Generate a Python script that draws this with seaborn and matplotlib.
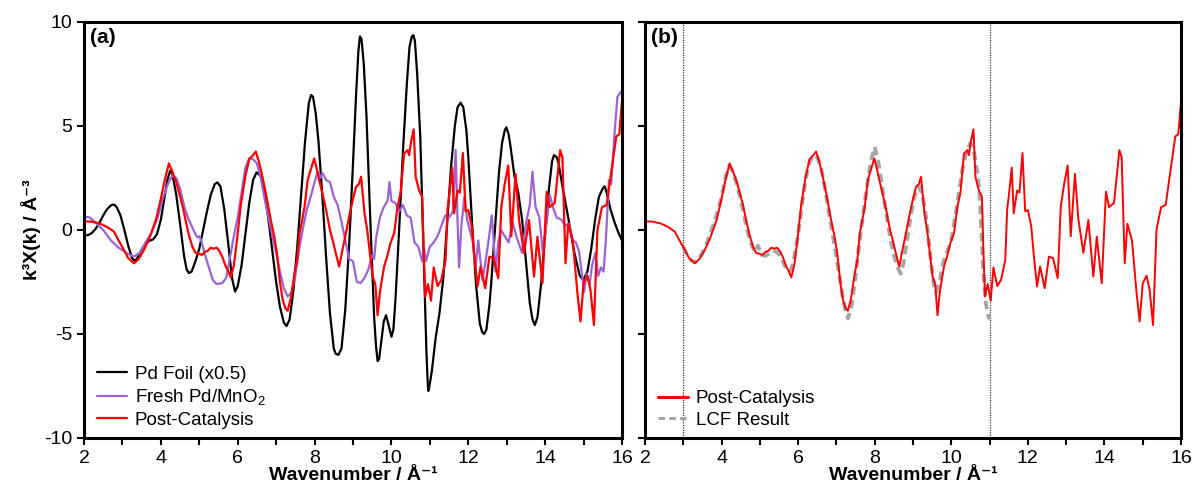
import numpy as np
import pandas as pd
import matplotlib
matplotlib.use("Agg")
import matplotlib.pyplot as plt
from matplotlib.ticker import MultipleLocator
import seaborn as sns

# ---------------- data ----------------
foil_k = [2.0, 2.1, 2.2, 2.3, 2.4, 2.5, 2.6, 2.7, 2.75, 2.8, 2.85, 2.95, 3.05, 3.15, 3.25, 3.3,
          3.35, 3.4, 3.5, 3.6, 3.7, 3.8, 3.9, 4.0, 4.1, 4.17, 4.24, 4.3, 4.4, 4.5, 4.6, 4.67, 4.73,
          4.8, 4.9, 5.0, 5.1, 5.2, 5.3, 5.4, 5.47, 5.55, 5.65, 5.75, 5.85, 5.93,
          6.0, 6.1, 6.2, 6.3, 6.4, 6.49, 6.6, 6.7, 6.8, 6.9, 7.0, 7.1, 7.2, 7.27,
          7.35, 7.45, 7.55, 7.65, 7.75, 7.85, 7.91, 7.96, 8.03, 8.1, 8.2, 8.3, 8.4, 8.5, 8.55, 8.62,
          8.7, 8.8, 8.9, 9.0, 9.08, 9.14, 9.18, 9.22, 9.28, 9.35, 9.45, 9.55, 9.6, 9.64, 9.68,
          9.74, 9.8, 9.86, 9.93, 10.0, 10.05,
          10.1, 10.2, 10.3, 10.4, 10.47, 10.53, 10.57, 10.61, 10.67, 10.75, 10.85, 10.91, 10.94,
          10.96, 10.99,
          11.05, 11.15, 11.25, 11.35, 11.45, 11.55, 11.65, 11.72, 11.8,
          11.87, 11.95, 12.0, 12.1, 12.2, 12.3, 12.36, 12.41, 12.47, 12.55, 12.6, 12.7, 12.8,
          12.88, 12.95, 12.99, 13.05,
          13.1, 13.2, 13.3, 13.4, 13.5, 13.6, 13.67, 13.73, 13.8, 13.9, 14.0, 14.1, 14.18, 14.23,
          14.3, 14.35, 14.45, 14.6, 14.75, 14.9, 14.99, 15.1, 15.2, 15.3, 15.4, 15.5, 15.55, 15.6,
          15.7, 15.8, 15.9, 16.0]
foil_v = [-0.25, -0.25, -0.15, 0.05, 0.35, 0.7, 1.0, 1.18, 1.22, 1.2, 1.1, 0.7, 0.0, -0.75, -1.35, -1.45,
          -1.45, -1.3, -0.95, -0.65, -0.52, -0.45, -0.2, 0.5, 1.6, 2.4, 2.85, 2.7, 1.7, 0.3, -1.2, -1.9, -2.07,
          -2.0, -1.5, -0.9, 0.0, 0.9, 1.7, 2.2, 2.29, 2.1, 1.0, -0.6, -2.3, -2.96,
          -2.7, -1.7, -0.2, 1.3, 2.4, 2.77, 2.6, 1.8, 0.5, -1.0, -2.5, -3.7, -4.45, -4.62,
          -4.3, -2.9, -0.8, 1.7, 4.2, 6.1, 6.49, 6.4, 5.6, 4.3, 1.7, -1.3, -4.0, -5.7, -5.95, -6.0,
          -5.7, -3.8, -0.7, 3.2, 6.5, 8.6, 9.3, 9.2, 8.0, 5.5, 0.5, -4.2, -5.6, -6.3, -6.2,
          -5.3, -4.4, -4.1, -4.6, -5.13, -4.8,
          -3.5, 0.0, 3.8, 7.0, 8.8, 9.3, 9.37, 9.1, 7.5, 4.5, -2.0, -5.8, -7.2,
          -7.74, -7.5,
          -6.8, -5.2, -4.0, -2.3, 0.3, 3.0, 5.0, 5.9, 6.12,
          5.9, 4.8, 3.5, 0.3, -2.6, -4.5, -4.9, -5.0, -4.8, -3.6, -2.5, 0.2, 2.8,
          4.2, 4.8, 4.94, 4.6,
          4.0, 2.6, 1.8, 0.5, -1.5, -3.5, -4.3, -4.57, -4.2, -2.5, -0.2, 2.0, 3.3, 3.6,
          3.5, 3.2, 2.1, 0.6, -1.0, -2.2, -2.4, -2.0, -0.9, 0.5, 1.6, 2.0, 2.1, 1.8,
          1.0, 0.4, -0.1, -0.5]

fresh_k = [2.0, 2.15, 2.3, 2.5, 2.7, 2.9, 3.1, 3.3, 3.45, 3.6, 3.75, 3.9, 4.05, 4.2, 4.3, 4.4,
           4.5, 4.6, 4.7, 4.8, 4.9, 4.95, 5.0, 5.05, 5.15, 5.25, 5.35, 5.45, 5.6, 5.7, 5.8, 5.9,
           6.0, 6.1, 6.2, 6.3, 6.4, 6.5, 6.6, 6.7, 6.8, 6.9, 7.0, 7.1, 7.2, 7.3, 7.4, 7.5, 7.6,
           7.7, 7.8, 7.9, 8.0, 8.08, 8.15, 8.2, 8.3, 8.4, 8.5, 8.6, 8.7, 8.8, 8.9, 9.0, 9.1, 9.2,
           9.3, 9.4, 9.5, 9.55, 9.6, 9.7, 9.8, 9.9, 9.95, 10.0, 10.1, 10.2, 10.3, 10.4, 10.5,
           10.6, 10.7, 10.8, 10.85, 10.9, 11.0, 11.1, 11.2, 11.3, 11.4, 11.5, 11.6, 11.67, 11.72,
           11.76, 11.82, 11.9, 11.97, 12.06, 12.12, 12.19, 12.26, 12.37, 12.45, 12.55, 12.61,
           12.66, 12.71, 12.78, 12.85, 12.95, 13.05, 13.15, 13.25, 13.4, 13.5, 13.6, 13.67,
           13.75, 13.85, 13.94, 14.05, 14.12, 14.2, 14.3, 14.42, 14.52, 14.62, 14.72, 14.8,
           14.88, 14.95, 15.01, 15.08, 15.16, 15.22, 15.31, 15.38, 15.45, 15.52, 15.58, 15.66,
           15.72, 15.8, 15.88, 15.95, 16.0]
fresh_v = [0.65, 0.6, 0.35, 0.0, -0.5, -0.85, -1.1, -1.28, -1.1, -0.6, -0.15, 0.5, 1.5, 2.3, 2.6, 2.5,
           2.0, 1.2, 0.6, 0.2, -0.2, -0.35, -0.3, -0.5, -1.2, -1.8, -2.4, -2.6, -2.55, -2.3, -1.3, -0.3,
           0.6, 1.8, 3.0, 3.45, 3.4, 3.2, 2.5, 1.5, 0.6, -0.3, -1.1, -2.0, -2.8, -3.2, -3.0, -2.2, -0.9,
           0.1, 1.0, 1.6, 2.3, 2.8, 2.5, 2.75, 2.4, 2.3, 1.6, 1.2, 0.4, -0.5, -1.4, -1.5, -2.5, -2.55,
           -2.3, -1.9, -1.2, -1.4, -0.4, 0.6, 1.1, 1.4, 2.3, 1.4, 1.3, 0.9, 1.2, 0.7, 0.6,
           -0.6, -0.8, -1.5, -0.9, -1.5, -0.8, -0.6, -0.3, 0.2, 0.7, 0.6, 0.9, 3.85, 0.5,
           -1.8, 0.2, 1.6, 0.5, -0.15, -0.6, -1.8, -0.5, -2.4, -1.5, -0.2, 0.7,
           -0.5, -2.0, -0.6, 0.0, -0.3, -0.6, 0.4, -0.3, -1.1, 0.3, 1.2, 2.8,
           1.1, 0.6, -1.1, 0.5, 1.7, 1.1, 0.6, 0.5, 0.2, 0.3, -0.5, -0.6,
           -1.0, -2.0, -3.0, -2.1, -2.6, -1.7, -1.1, -2.2, -1.8, -2.0, -0.5, 2.4,
           2.2, 4.5, 6.4, 6.6, 6.7]

post_k = [2.0, 2.2, 2.4, 2.6, 2.78, 2.9, 3.04, 3.15, 3.3, 3.42, 3.56, 3.7, 3.87, 4.0, 4.1, 4.21,
          4.3, 4.4, 4.56, 4.65, 4.73, 4.82, 4.9, 5.0, 5.07, 5.15, 5.22, 5.3, 5.37, 5.45, 5.52, 5.6,
          5.69, 5.76, 5.82, 5.9, 5.98, 6.08, 6.2, 6.3, 6.4, 6.47, 6.55, 6.65, 6.75, 6.86, 6.95,
          7.02, 7.1, 7.17, 7.25, 7.3, 7.38, 7.48, 7.55, 7.61, 7.68, 7.74, 7.82, 7.9, 7.99, 8.05,
          8.12, 8.2, 8.3, 8.4, 8.47, 8.55, 8.64, 8.72, 8.8, 8.9, 9.0, 9.08, 9.15, 9.21, 9.3, 9.37,
          9.43, 9.51, 9.58, 9.64, 9.7, 9.76, 9.81, 9.9, 9.98, 10.07, 10.16, 10.24, 10.33, 10.42,
          10.46, 10.51, 10.58, 10.63, 10.72, 10.8, 10.84, 10.88, 10.95, 11.03, 11.1, 11.2, 11.3,
          11.41, 11.46, 11.5, 11.58, 11.63, 11.72, 11.78, 11.86, 11.93, 12.0, 12.09, 12.15, 12.24,
          12.32, 12.44, 12.55, 12.66, 12.78, 12.86, 12.95, 13.04, 13.12, 13.23, 13.32, 13.45,
          13.58, 13.71, 13.8, 13.93, 14.04, 14.12, 14.25, 14.39, 14.45, 14.53, 14.6, 14.72,
          14.84, 14.92, 15.0, 15.1, 15.18, 15.27, 15.36, 15.48, 15.6, 15.75, 15.85, 15.93, 16.0]
post_v = [0.42, 0.4, 0.32, 0.15, -0.08, -0.5, -0.96, -1.35, -1.6, -1.4, -0.96, -0.4, 0.48, 1.5, 2.4, 3.2,
          2.8, 2.3, 1.2, 0.4, -0.24, -0.8, -1.1, -1.15, -1.2, -1.05, -1.0, -0.85, -0.9, -0.85, -1.0, -1.3,
          -1.76, -2.0, -2.28, -1.7, -0.5, 1.2, 2.6, 3.4, 3.6, 3.77, 3.3, 2.5, 1.6, 0.48, -0.3,
          -1.1, -2.5, -3.36, -3.8, -3.88, -3.3, -2.08, -1.4, -0.16, 0.5, 1.12, 2.4, 2.9, 3.44, 3.0,
          2.4, 1.8, 0.96, 0.0, -0.48, -1.1, -1.76, -1.0, -0.3, 0.64, 1.5, 2.08, 2.2, 2.56, 0.8, 0.0,
          -0.96, -2.24, -2.6, -4.1, -3.0, -2.3, -1.76, -1.2, -0.6, -0.16, 1.12, 1.8, 3.68, 3.84,
          3.6, 4.24, 4.84, 2.56, 1.9, 1.6, -1.1, -3.2, -2.6, -3.4, -1.8, -2.7, -2.4,
          -1.44, 1.0, 1.6, 3.0, 0.8, 1.9, 1.8, 3.7, 0.9, 0.96, 0.16, -1.1, -2.72,
          -1.76, -2.8, -1.28, -1.36, -2.32, 1.12, 2.24, 3.1, -0.3, 2.7, 0.5, -1.1,
          0.48, -2.24, -0.32, -2.56, 1.84, 1.1, 1.3, 3.84, 3.5, -1.6, 0.3, -0.5,
          -3.04, -4.4, -2.56, -2.2, -2.88, -4.57, 0.0, 1.1, 1.2, 3.2, 4.5, 4.6, 6.2]

lcf_k = [3.0, 3.1, 3.2, 3.3, 3.4, 3.5, 3.6, 3.7, 3.8, 3.9, 4.0, 4.1, 4.2, 4.3, 4.4, 4.5, 4.6, 4.7,
         4.8, 4.9, 4.95, 5.05, 5.15, 5.25, 5.35, 5.45, 5.55, 5.65, 5.75, 5.82, 5.9, 6.0, 6.1, 6.2,
         6.3, 6.4, 6.5, 6.6, 6.7, 6.8, 6.9, 7.0, 7.1, 7.2, 7.3, 7.4, 7.5, 7.6, 7.7, 7.8, 7.9, 8.0,
         8.1, 8.2, 8.3, 8.4, 8.5, 8.6, 8.68, 8.75, 8.85, 8.95, 9.05, 9.15, 9.25, 9.35, 9.45, 9.55,
         9.6, 9.7, 9.8, 9.9, 10.0, 10.1, 10.2, 10.3, 10.4, 10.5, 10.6, 10.7, 10.75, 10.83, 10.9,
         10.96, 11.0]
lcf_v = [-0.8, -1.2, -1.45, -1.55, -1.4, -1.1, -0.7, -0.2, 0.3, 0.9, 1.6, 2.5, 3.1, 2.8, 2.2, 1.5, 0.6, -0.2,
         -0.8, -1.05, -0.75, -1.2, -1.25, -1.1, -1.0, -1.05, -1.3, -1.7, -2.0, -1.9, -1.3, -0.2, 1.2, 2.5,
         3.3, 3.6, 3.5, 3.0, 2.0, 0.9, -0.2, -1.3, -2.5, -3.6, -4.25, -3.6, -2.2, -0.6, 0.8, 2.1, 3.3, 4.0,
         3.2, 2.0, 0.8, -0.3, -1.2, -1.8, -2.1, -1.6, -0.4, 0.8, 1.7, 2.1, 1.7, 0.5, -1.2, -2.7,
         -3.0, -2.4, -1.5, -1.0, -0.5, 0.6, 1.8, 3.0, 3.8, 4.17, 3.7, 2.5, 1.44, -1.76, -3.5,
         -4.1, -4.3]

fit_window = [3.0, 11.0]
x_ticks = [2, 4, 6, 8, 10, 12, 14, 16]
y_ticks = [-10, -5, 0, 5, 10]

# ---------------- style ----------------
sns.set_style("ticks")
plt.rcParams["font.family"] = ["Liberation Sans", "DejaVu Sans"]
plt.rcParams["mathtext.default"] = "regular"
plt.rcParams["axes.unicode_minus"] = False
plt.rcParams["axes.edgecolor"] = "black"
plt.rcParams["xtick.color"] = "black"
plt.rcParams["ytick.color"] = "black"
plt.rcParams["text.color"] = "black"
plt.rcParams["axes.labelcolor"] = "black"
narrow = ["Liberation Sans Narrow", "Liberation Sans", "DejaVu Sans"]

C_BLACK = "#000000"
C_PURPLE = "#9B63D6"
C_RED = "#FF0000"
C_GREY = "#A6A6A6"

fig = plt.figure(figsize=(11.95, 4.96), dpi=100)
axL = fig.add_axes([84 / 1195, 58 / 496, 538 / 1195, 416 / 496])
axR = fig.add_axes([645 / 1195, 58 / 496, 536 / 1195, 416 / 496])

df_foil = pd.DataFrame({"k": foil_k, "v": foil_v})
df_fresh = pd.DataFrame({"k": fresh_k, "v": fresh_v})
df_post = pd.DataFrame({"k": post_k, "v": post_v})
df_lcf = pd.DataFrame({"k": lcf_k, "v": lcf_v})

# Panel (a)
sns.lineplot(data=df_foil, x="k", y="v", ax=axL, color=C_BLACK, lw=1.6,
             estimator=None, sort=False, label="Pd Foil (x0.5)")
sns.lineplot(data=df_fresh, x="k", y="v", ax=axL, color=C_PURPLE, lw=1.6,
             estimator=None, sort=False, label="Fresh Pd/MnO$_2$")
sns.lineplot(data=df_post, x="k", y="v", ax=axL, color=C_RED, lw=1.6,
             estimator=None, sort=False, label="Post-Catalysis")

# Panel (b)
for xv in fit_window:
    axR.axvline(xv, color="#333333", lw=0.9, ls=(0, (1, 1)), zorder=1)
sns.lineplot(data=df_post, x="k", y="v", ax=axR, color=C_RED, lw=1.4,
             estimator=None, sort=False, label="Post-Catalysis", zorder=2)
sns.lineplot(data=df_lcf, x="k", y="v", ax=axR, color=C_GREY, lw=2.8,
             estimator=None, sort=False, label="LCF Result", zorder=3,
             dashes=False, linestyle=(0, (2.2, 1.3)))
axR.lines[-1].set_zorder(1.5)

for ax, tag in [(axL, "(a)"), (axR, "(b)")]:
    ax.set_xlim(2, 16)
    ax.set_ylim(-10, 10)
    ax.set_xticks(x_ticks)
    ax.xaxis.set_minor_locator(MultipleLocator(1))
    ax.set_yticks(y_ticks)
    ax.tick_params(axis="both", which="both", direction="out", length=5, width=1.5)
    ax.tick_params(axis="both", labelsize=14)
    for lab in ax.get_xticklabels() + ax.get_yticklabels():
        lab.set_fontfamily(narrow)
    for s in ax.spines.values():
        s.set_linewidth(2.2)
        s.set_visible(True)
        s.set_edgecolor("black")
    ax.set_xlabel("Wavenumber / Å⁻¹", fontsize=14, fontweight="bold", labelpad=0)
    ax.set_ylabel("")
    ax.text(0.012, 0.985, tag, transform=ax.transAxes, ha="left", va="top",
            fontsize=15, fontweight="bold")

axR.set_yticklabels([])
axL.set_ylabel("k³X(k) / Å⁻³", fontsize=14, fontweight="bold", labelpad=2,
               family=["Liberation Sans", "DejaVu Sans"])

legL = axL.legend(loc="lower left", frameon=False, fontsize=13.5, handlelength=1.6,
                  handletextpad=0.4, labelspacing=0.25, borderaxespad=0.3,
                  bbox_to_anchor=(0.0, -0.01))
legR = axR.legend(loc="lower left", frameon=False, fontsize=13.5, handlelength=1.6,
                  handletextpad=0.4, labelspacing=0.25, borderaxespad=0.3,
                  bbox_to_anchor=(0.0, -0.01))
for lh in legR.get_lines():
    lh.set_linewidth(2.2)

fig.savefig("out.png", dpi=100)
